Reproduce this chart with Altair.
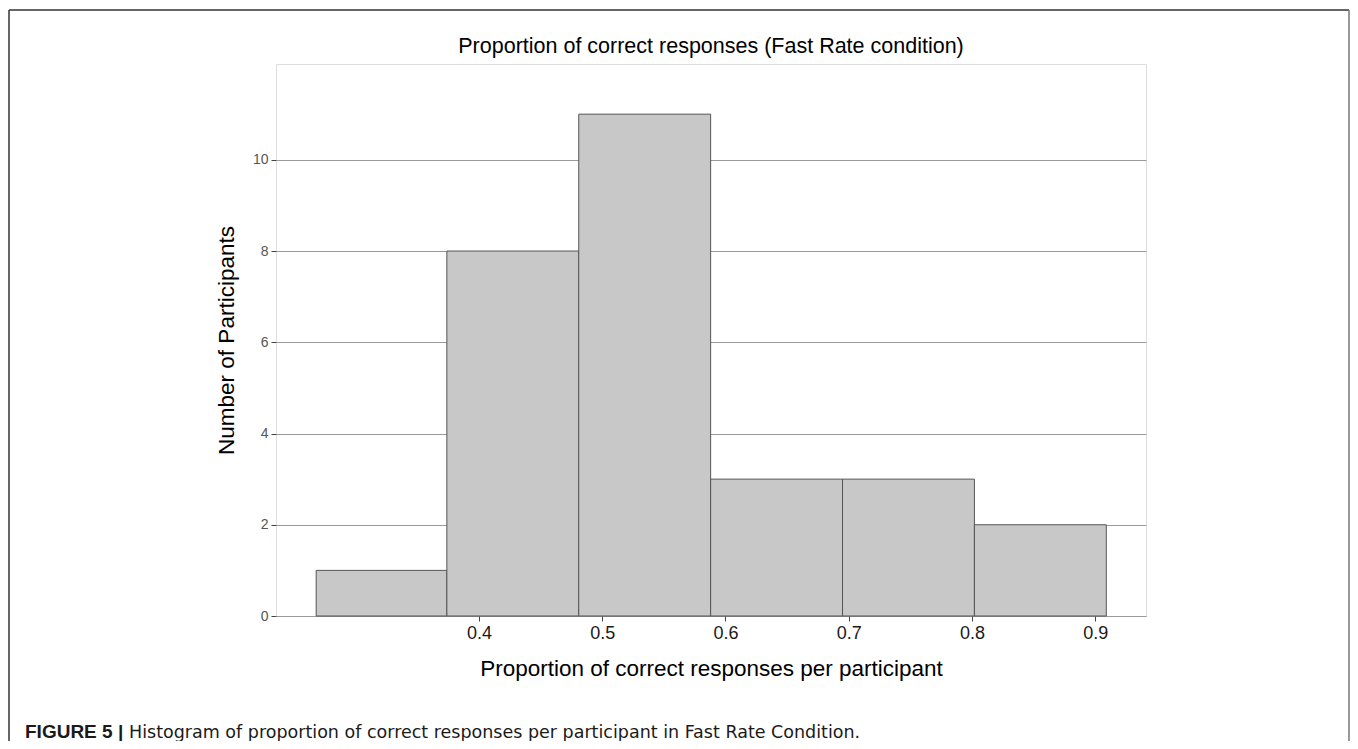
import altair as alt
import pandas as pd

# Histogram bins
bin_start = [0.268, 0.374, 0.481, 0.588, 0.695, 0.802]
bin_end = [0.374, 0.481, 0.588, 0.695, 0.802, 0.909]
counts = [1, 8, 11, 3, 3, 2]

x_ticks = [0.4, 0.5, 0.6, 0.7, 0.8, 0.9]
y_ticks = [0, 2, 4, 6, 8, 10]

title_text = "Proportion of correct responses (Fast Rate condition)"
x_title = "Proportion of correct responses per participant"
y_title = "Number of Participants"
caption_bold = "FIGURE 5 |"
caption_rest = "Histogram of proportion of correct responses per participant in Fast Rate Condition."

df = pd.DataFrame({"start": bin_start, "end": bin_end, "count": counts})

FONT = "Liberation Sans"
W, H = 870, 552

bars = alt.Chart(df).mark_rect(
    fill="#c8c8c8", stroke="#555555", strokeWidth=1
).encode(
    x=alt.X("start:Q",
            scale=alt.Scale(domain=[0.2354, 0.9412], nice=False, zero=False),
            axis=alt.Axis(values=x_ticks, format=".1f", grid=False, domain=False,
                          tickColor="#444444", tickSize=5, labelFontSize=18,
                          labelColor="#1a1a1a", labelFont=FONT, labelPadding=3,
                          title=x_title, titleFont=FONT, titleFontSize=22.5,
                          titleFontWeight="normal", titleColor="#000000",
                          titleX=W / 2, titleY=59, titleBaseline="alphabetic",
                          titleAlign="center")),
    x2="end:Q",
    y=alt.Y("count:Q",
            scale=alt.Scale(domain=[0, 12.1], nice=False),
            axis=alt.Axis(values=y_ticks, grid=True, gridColor="#9a9a9a", gridWidth=1,
                          domain=False, tickColor="#444444", tickSize=5,
                          labelFontSize=14, labelColor="#555555", labelFont=FONT,
                          labelPadding=3,
                          title=y_title, titleFont=FONT, titleFontSize=22.5,
                          titleFontWeight="normal", titleColor="#000000",
                          titleAngle=270, titleX=-43, titleY=H / 2,
                          titleBaseline="alphabetic", titleAlign="center")),
    y2=alt.datum(0),
)

frame_color = "#333333"
frame_top = alt.Chart(df).mark_rule(color=frame_color, strokeWidth=1.5).encode(
    x=alt.value(-267), x2=alt.value(1073), y=alt.value(-54)
).transform_filter("datum.count == 1")
frame_left = alt.Chart(df).mark_rule(color=frame_color, strokeWidth=1.5).encode(
    x=alt.value(-267), y=alt.value(-54), y2=alt.value(700)
).transform_filter("datum.count == 1")
frame_right = alt.Chart(df).mark_rule(color="#777777", strokeWidth=1.5).encode(
    x=alt.value(1073), y=alt.value(-54), y2=alt.value(700)
).transform_filter("datum.count == 1")

txt_df = pd.DataFrame({"t": [caption_bold], "r": [caption_rest], "title": [title_text]})

title = alt.Chart(txt_df).mark_text(
    font=FONT, fontSize=21.5, align="center", baseline="alphabetic", color="#000000"
).encode(x=alt.value(W / 2), y=alt.value(52.5 - 64), text="title:N")

cap1 = alt.Chart(txt_df).mark_text(
    font=FONT, fontSize=19, fontWeight="bold", align="left",
    baseline="alphabetic", color="#1a1a1a"
).encode(x=alt.value(25 - 276), y=alt.value(738 - 64), text="t:N")
cap2 = alt.Chart(txt_df).mark_text(
    font="DejaVu Sans", fontSize=17.5, align="left",
    baseline="alphabetic", color="#1a1a1a"
).encode(x=alt.value(129 - 276), y=alt.value(738 - 64), text="r:N")

chart = alt.layer(bars, frame_top, frame_left, frame_right, title, cap1, cap2).properties(
    width=W, height=H,
    autosize=alt.AutoSizeParams(type="none"),
    padding={"left": 268, "top": 56, "right": 204, "bottom": 125},
).configure_view(stroke="#999999", strokeWidth=1).configure(background="white")

chart.save("out.html", embed_options={"renderer": "svg", "actions": False})
